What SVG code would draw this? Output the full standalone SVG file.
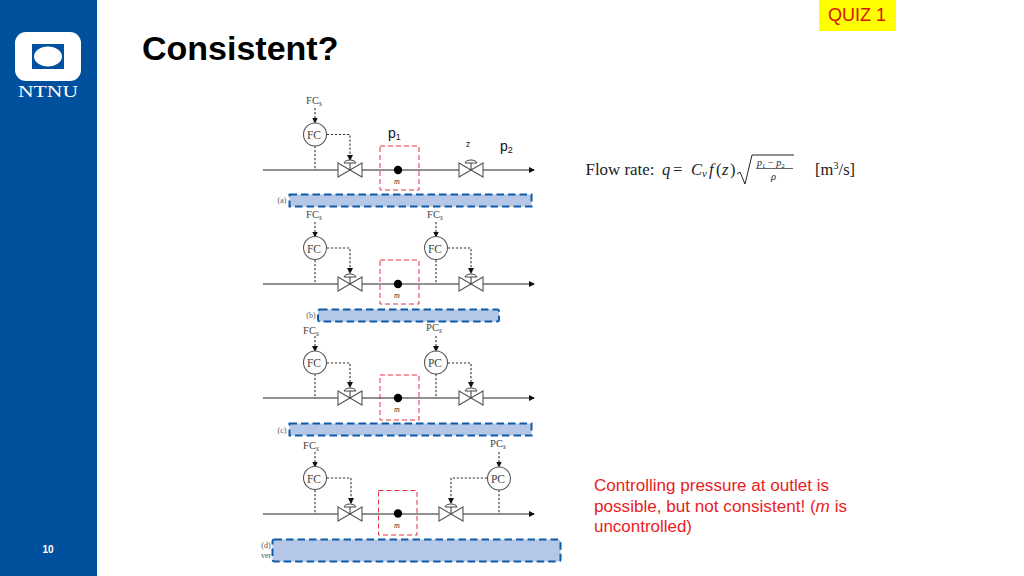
<svg xmlns="http://www.w3.org/2000/svg" xmlns:xlink="http://www.w3.org/1999/xlink" width="1024" height="576" viewBox="0 0 1024 576">
<style>
.sans{font-family:"Liberation Sans",Arial,sans-serif}
.serif{font-family:"Liberation Serif","Times New Roman",serif}
.lbl{font-family:"Liberation Serif","Times New Roman",serif;font-size:11.500px;fill:#444;text-anchor:middle}
.set{font-family:"Liberation Serif","Times New Roman",serif;font-size:10.500px;fill:#444;text-anchor:middle}
.tag{font-family:"Liberation Serif","Times New Roman",serif;font-size:8px;fill:#555;text-anchor:middle}
.mm{font-family:"Liberation Serif","Times New Roman",serif;font-size:8px;font-style:italic;fill:#333;text-anchor:middle}
.sub{font-size:7.500px;font-style:italic}
.ctrl{fill:#fff;stroke:#555;stroke-width:1.1}
.pipe{fill:none;stroke:#222;stroke-width:1.2}
.sig{fill:none;stroke:#333;stroke-width:1.1;stroke-dasharray:2.2 1.8}
.valve{fill:#fff;stroke:#555;stroke-width:1.1}
.red{fill:none;stroke:#e0323c;stroke-width:1;stroke-dasharray:5 3}
.bar{fill:#b4c7e7;stroke:#0f5ba7;stroke-width:2;stroke-dasharray:7.5 4}
.pl{font-family:"Liberation Sans",Arial,sans-serif;font-size:14px;fill:#111}
</style>
<defs>
<marker id="ah" markerWidth="6" markerHeight="6" refX="5" refY="3" orient="auto" markerUnits="userSpaceOnUse"><path d="M0 0L6 3L0 6Z" fill="#111"/></marker>
<g id="vlv">
<path class="valve" d="M-12 -7L12 7V-7L-12 7Z"/>
<path d="M0 0V-7" stroke="#333" stroke-width="1" fill="none"/>
<path d="M-6 -7C-5 -11 5 -11 6 -7Z" fill="#fff" stroke="#444" stroke-width="1"/>
</g>
</defs>
<rect width="1024" height="576" fill="#fff"/>
<g id="sidebar">
<rect x="0" y="0" width="97" height="576" fill="#00509e"/>
<rect x="15" y="32" width="66" height="49" rx="11" fill="#fff"/>
<rect x="32" y="44" width="32" height="25" fill="#00509e"/>
<ellipse cx="48" cy="56.500" rx="14" ry="10" fill="#fff"/>
<text x="18" y="97" class="serif" font-size="16" fill="#fff" textLength="60" lengthAdjust="spacingAndGlyphs">NTNU</text>
<text x="48" y="553" text-anchor="middle" class="sans" font-size="10" font-weight="bold" fill="#fff">10</text>
</g>
<g id="title"><text x="142" y="59" class="sans" font-size="34" font-weight="bold" fill="#000" transform="translate(0 1)">Consistent?</text></g>
<g id="quiz">
<rect x="819" y="0" width="77" height="31" fill="#ffff00"/>
<text x="857" y="21" text-anchor="middle" class="sans" font-size="18" fill="#d8140a">QUIZ 1</text>
</g>

<g id="connectors">
<path class="pipe" marker-end="url(#ah)" d="M263 170H534"/>
<path class="pipe" marker-end="url(#ah)" d="M263 284H534"/>
<path class="pipe" marker-end="url(#ah)" d="M263 398H534"/>
<path class="pipe" marker-end="url(#ah)" d="M263 514H534"/>
<g class="sig">
<path marker-end="url(#ah)" d="M315 108V122.500"/>
<path d="M315 146V170"/>
<path marker-end="url(#ah)" d="M327 134.500H350V160"/>
<path marker-end="url(#ah)" d="M315 222V236.500"/>
<path d="M315 260V284"/>
<path marker-end="url(#ah)" d="M327 248H350V273"/>
<path marker-end="url(#ah)" d="M436 222V236.500"/>
<path d="M436 260V284"/>
<path marker-end="url(#ah)" d="M448 248H471V273"/>
<path marker-end="url(#ah)" d="M315 336V351"/>
<path d="M315 374V398"/>
<path marker-end="url(#ah)" d="M327 363H350V387"/>
<path marker-end="url(#ah)" d="M436 336V351"/>
<path d="M436 374V398"/>
<path marker-end="url(#ah)" d="M448 363H471V387"/>
<path marker-end="url(#ah)" d="M315 452V466.500"/>
<path d="M315 490V514"/>
<path marker-end="url(#ah)" d="M327 478H351V503"/>
<path marker-end="url(#ah)" d="M499 452V466.500"/>
<path d="M499 490V514"/>
<path marker-end="url(#ah)" d="M487 478H451V503"/>
</g>
</g>

<g id="panel-a">
<g id="a-fc"><circle class="ctrl" cx="315" cy="134.500" r="11.500"/><text class="lbl" x="314" y="139">FC</text></g>
<text class="set" x="314" y="104">FC<tspan class="sub" dy="1.500">s</tspan></text>
<use xlink:href="#vlv" href="#vlv" x="350" y="170"/>
<use xlink:href="#vlv" href="#vlv" x="471" y="170"/>
<rect class="red" x="380" y="146" width="39" height="44"/>
<circle cx="398" cy="170" r="4.200" fill="#000"/>
<text class="mm" x="397" y="184">m</text>
<rect class="bar" x="289.500" y="194.500" width="242" height="12"/>
<text class="tag" x="282" y="203">(a)</text>
<text class="pl" x="388" y="138">p<tspan font-size="9" dy="2">1</tspan></text>
<text class="pl" x="500" y="151">p<tspan font-size="9" dy="2">2</tspan></text>
<text class="sans" x="468" y="147" font-size="8.500" fill="#222" text-anchor="middle">z</text>
</g>

<g id="panel-b">
<g id="b-fc1"><circle class="ctrl" cx="315" cy="248" r="11.500"/><text class="lbl" x="314" y="252.500">FC</text></g>
<g id="b-fc2"><circle class="ctrl" cx="436" cy="248" r="11.500"/><text class="lbl" x="435" y="252.500">FC</text></g>
<text class="set" x="314" y="218">FC<tspan class="sub" dy="1.500">s</tspan></text>
<text class="set" x="435" y="218">FC<tspan class="sub" dy="1.500">s</tspan></text>
<use xlink:href="#vlv" href="#vlv" x="350" y="284"/>
<use xlink:href="#vlv" href="#vlv" x="471" y="284"/>
<rect class="red" x="380" y="260" width="39" height="44"/>
<circle cx="398" cy="284" r="4.200" fill="#000"/>
<text class="mm" x="397" y="298">m</text>
<rect class="bar" x="318" y="309.500" width="181" height="12" rx="2"/>
<text class="tag" x="311" y="318">(b)</text>
</g>

<g id="panel-c">
<g id="c-fc"><circle class="ctrl" cx="315" cy="362.500" r="11.500"/><text class="lbl" x="314" y="367">FC</text></g>
<g id="c-pc"><circle class="ctrl" cx="436" cy="362.500" r="11.500"/><text class="lbl" x="435" y="367">PC</text></g>
<text class="set" x="311" y="334">FC<tspan class="sub" dy="1.500">s</tspan></text>
<text class="set" x="434" y="331">PC<tspan class="sub" dy="1.500">s</tspan></text>
<use xlink:href="#vlv" href="#vlv" x="350" y="398"/>
<use xlink:href="#vlv" href="#vlv" x="471" y="398"/>
<rect class="red" x="380" y="375" width="39" height="45"/>
<circle cx="398" cy="398" r="4.200" fill="#000"/>
<text class="mm" x="397" y="412">m</text>
<rect class="bar" x="289.500" y="423.500" width="242" height="12"/>
<text class="tag" x="282" y="433">(c)</text>
</g>

<g id="panel-d">
<g id="d-fc"><circle class="ctrl" cx="315" cy="478" r="11.500"/><text class="lbl" x="314" y="482.500">FC</text></g>
<g id="d-pc"><circle class="ctrl" cx="499" cy="478.500" r="11.500"/><text class="lbl" x="498" y="483">PC</text></g>
<text class="set" x="311" y="449">FC<tspan class="sub" dy="1.500">s</tspan></text>
<text class="set" x="498" y="447">PC<tspan class="sub" dy="1.500">s</tspan></text>
<use xlink:href="#vlv" href="#vlv" x="350" y="514"/>
<use xlink:href="#vlv" href="#vlv" x="451" y="514"/>
<rect class="red" x="378.500" y="490.500" width="38.500" height="44.500"/>
<circle cx="398" cy="513.500" r="4.200" fill="#000"/>
<text class="mm" x="397" y="528">m</text>
<text class="tag" x="266" y="548">(d)</text>
<text class="tag" x="266" y="558">ver</text>
<rect class="bar" x="272.500" y="539.500" width="288" height="22" rx="2"/>
</g>

<g id="formula" class="serif" fill="#222">
<text x="585.500" y="175" font-size="16.500" textLength="69" lengthAdjust="spacingAndGlyphs">Flow rate:</text>
<text y="175" font-size="16.500"><tspan font-style="italic" x="662">q</tspan><tspan x="673">=</tspan><tspan font-style="italic" x="691">C</tspan><tspan font-style="italic" font-size="11" x="702" dy="2">v</tspan><tspan font-style="italic" x="709" dy="-2">f</tspan><tspan x="716">(</tspan><tspan font-style="italic" x="722">z</tspan><tspan x="730">)</tspan></text>
<path d="M737 174L740 172L745 184L752 155H794" fill="none" stroke="#222" stroke-width="1"/>
<text x="757" y="166" font-size="10" font-style="italic">p<tspan font-size="7" font-style="normal" dy="1.500">1</tspan><tspan font-style="normal" dy="-1.500"> − </tspan>p<tspan font-size="7" font-style="normal" dy="1.500">2</tspan></text>
<path d="M756 168.500H793" stroke="#222" stroke-width="0.700"/>
<text x="771" y="180" font-size="10.500" font-style="italic">ρ</text>
<text x="815" y="175" font-size="16.500">[m<tspan font-size="10.500" dy="-6">3</tspan><tspan dy="6">/s]</tspan></text>
</g>

<g id="note" class="sans" font-size="16" fill="#ea1c24">
<text x="594" y="491" textLength="235" lengthAdjust="spacingAndGlyphs">Controlling pressure at outlet is</text>
<text x="594" y="512" textLength="253" lengthAdjust="spacingAndGlyphs">possible, but not consistent! (<tspan font-style="italic">m</tspan> is</text>
<text x="594" y="532" textLength="98" lengthAdjust="spacingAndGlyphs">uncontrolled)</text>
</g>
</svg>
